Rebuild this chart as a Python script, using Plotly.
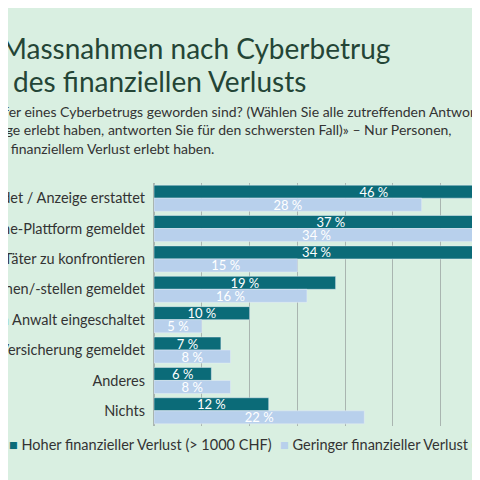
import plotly.graph_objects as go

categories = [
    "Bei der Polizei gemeldet / Anzeige erstattet",
    "Bei der Online-Plattform gemeldet",
    "Versucht, die Täter zu konfrontieren",
    "Bei anderen Institutionen/-stellen gemeldet",
    "Einen Anwalt eingeschaltet",
    "Bei der Versicherung gemeldet",
    "Anderes",
    "Nichts",
]
hoch = [46, 37, 34, 19, 10, 7, 6, 12]
gering = [28, 34, 15, 16, 5, 8, 8, 22]
series_names = ["Hoher finanzieller Verlust (> 1000 CHF)", "Geringer finanzieller Verlust (< 1000 CHF)"]
colors = ["#0b6b78", "#b8d0ec"]

W, L = 334, 146
fig = go.Figure()
for vals, name, c in zip([hoch, gering], series_names, colors):
    fig.add_trace(go.Bar(y=categories, x=vals, orientation="h", name=name,
                         marker_color=c, text=[f"{v} %" for v in vals],
                         textposition="inside", insidetextanchor="middle",
                         textfont=dict(color="white", size=13), showlegend=False))

bg = "#d9efe1"
fig.update_layout(
    width=480, height=480, barmode="group", bargap=0.14, bargroupgap=0,
    paper_bgcolor=bg, plot_bgcolor=bg,
    margin=dict(l=L, r=0, t=175, b=62),
    font=dict(family="Lato, sans-serif", color="#333"),
    uniformtext=dict(minsize=13, mode="show"),
    xaxis=dict(range=[0, 34.94], dtick=5, showticklabels=False, gridcolor="#a9b5b0",
               zeroline=True, zerolinecolor="#a9b5b0", automargin=False),
    yaxis=dict(autorange="reversed", tickfont=dict(size=14.5, color="#333"),
               ticklabelstandoff=8, automargin=False),
)

def px(x):
    return (x - L) / W

def py(y):
    return 1 + (175 - y) / 243

fig.add_annotation(text="Massnahmen nach Cyberbetrug", xref="paper", yref="paper",
                   x=px(-9), y=py(40), xanchor="left", yanchor="middle",
                   showarrow=False, font=dict(size=28, color="#244536"))
fig.add_annotation(text="nach Höhe des finanziellen Verlusts", xref="paper", yref="paper",
                   x=px(300), y=py(73), xanchor="right", yanchor="middle",
                   showarrow=False, font=dict(size=28, color="#244536"))
sub = ["«Was haben Sie getan, als Sie Opfer eines Cyberbetrugs geworden sind? (Wählen Sie alle zutreffenden Antworten",
       "aus. Falls Sie mehrere Betrüge erlebt haben, antworten Sie für den schwersten Fall)» – Nur Personen,",
       "die einen Cyberbetrug mit finanziellem Verlust erlebt haben."]
ends = [489, 446, 208]
for i, (s, e) in enumerate(zip(sub, ends)):
    fig.add_annotation(text=s, xref="paper", yref="paper", x=px(e), y=py(103 + 18.5 * i),
                       xanchor="right", yanchor="middle",
                       showarrow=False, font=dict(size=14, color="#333"))

# legend drawn as text
for name, c, x0 in zip(series_names, colors, [-1, 270]):
    fig.add_annotation(text=f"<span style='color:{c}'>■</span> {name}", xref="paper", yref="paper",
                       x=px(x0), y=py(436), xanchor="left", yanchor="middle",
                       showarrow=False, font=dict(size=14.5, color="#333"))

fig.write_html("out.html")
